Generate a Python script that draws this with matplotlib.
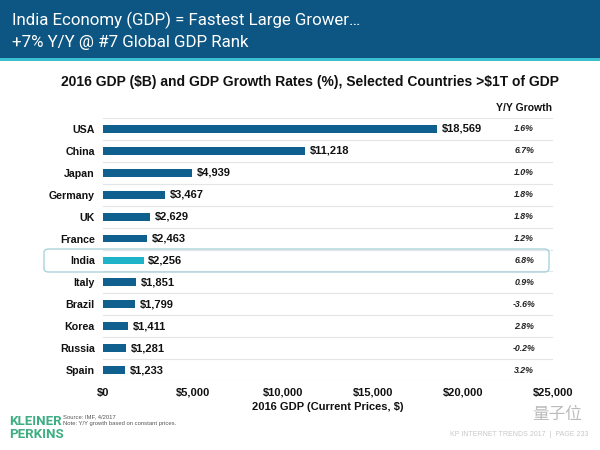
import matplotlib
matplotlib.use("Agg")
import matplotlib.pyplot as plt
from matplotlib.patches import Rectangle, FancyBboxPatch

countries = ["USA", "China", "Japan", "Germany", "UK", "France", "India",
             "Italy", "Brazil", "Korea", "Russia", "Spain"]
gdp = [18569, 11218, 4939, 3467, 2629, 2463, 2256, 1851, 1799, 1411, 1281, 1233]
growth = ["1.6%", "6.7%", "1.0%", "1.8%", "1.8%", "1.2%", "6.8%",
          "0.9%", "-3.6%", "2.8%", "-0.2%", "3.2%"]
xticks = [0, 5000, 10000, 15000, 20000, 25000]
xticklabels = ["$0", "$5,000", "$10,000", "$15,000", "$20,000", "$25,000"]

W, H = 600, 450
DARK = "#0f5f8f"
CYAN = "#1fb3c9"
HEAD = "#0d5582"

plt.rcParams['font.family'] = ['Liberation Sans', 'DejaVu Sans']
plt.rcParams['text.parse_math'] = False

fig = plt.figure(figsize=(6, 4.5), dpi=100)

def fx(x):
    return x / W

def fy(y):
    return 1 - y / H

# header band
fig.patches.append(Rectangle((0, fy(58)), 1, 58 / H, transform=fig.transFigure,
                             facecolor=HEAD, edgecolor="none", zorder=0))
fig.patches.append(Rectangle((0, fy(61)), 1, 3 / H, transform=fig.transFigure,
                             facecolor="#3bc0d0", edgecolor="none", zorder=0))
fig.text(fx(12), fy(20), "India Economy (GDP) = Fastest Large Grower\u2026",
         color="white", fontsize=12.2, va="center", ha="left", family="Roboto")
fig.text(fx(12), fy(43), "+7% Y/Y @ #7 Global GDP Rank",
         color="white", fontsize=12.2, va="center", ha="left", family="Roboto")

fig.text(fx(310), fy(82),
         "2016 GDP ($B) and GDP Growth Rates (%), Selected Countries >$1T of GDP",
         fontsize=10, fontweight="bold", ha="center", va="center", color="#111111")

# India highlight box
box = FancyBboxPatch((fx(44), fy(272)), fx(549) - fx(44), (272 - 249) / H,
                     boxstyle="round,pad=0,rounding_size=0.008",
                     transform=fig.transFigure, facecolor="none",
                     edgecolor="#a9d3da", linewidth=1.0, zorder=1)
fig.patches.append(box)

ax = fig.add_axes([fx(103), fy(381), 450 / W, (381 - 118) / H])
ax.set_xlim(0, 25000)
ax.set_ylim(len(countries) - 0.5, -0.5)
ypos = list(range(len(countries)))
colors = [CYAN if c == "India" else DARK for c in countries]
ax.barh(ypos, gdp, height=0.36, color=colors, zorder=3)

for i in range(len(countries) + 1):
    ax.axhline(i - 0.5, color="#e3e6e8", linewidth=0.8, zorder=1)

for y, v in zip(ypos, gdp):
    ax.text(v + 250, y, f"${v:,}", va="center", ha="left", fontsize=8,
            fontweight="bold", color="#111111")
for y, g in zip(ypos, growth):
    ax.text(23400, y, g, va="center", ha="center", fontsize=6.3,
            fontstyle="italic", fontweight="bold", color="#222222")

ax.text(23400, -0.95, "Y/Y Growth", va="center", ha="center", fontsize=7.5,
        fontweight="bold", color="#111111")

ax.set_yticks(ypos)
ax.set_yticklabels(countries, fontsize=7.7, fontweight="bold", color="#111111")
ax.set_xticks(xticks)
ax.set_xticklabels(xticklabels, fontsize=8, fontweight="bold", color="#111111")
ax.tick_params(length=0, pad=6)
ax.tick_params(axis="x", pad=5)
for s in ax.spines.values():
    s.set_visible(False)
ax.set_xlabel("2016 GDP (Current Prices, $)", fontsize=8, fontweight="bold",
              color="#111111", labelpad=3)

# footer
fig.text(fx(9), fy(421.5), "KLEINER", fontsize=9.5, fontweight="bold",
         color="#3fae82", va="center", ha="left", family="Roboto")
fig.text(fx(9), fy(434), "PERKINS", fontsize=9.5, fontweight="bold",
         color="#3fae82", va="center", ha="left", family="Roboto")
fig.text(fx(63), fy(416.5), "Source: IMF, 4/2017", fontsize=4.2,
         color="#555555", va="center", ha="left")
fig.text(fx(63), fy(423.5), "Note: Y/Y growth based on constant prices.",
         fontsize=4.2, color="#555555", va="center", ha="left")
fig.text(fx(588), fy(434), "KP INTERNET TRENDS 2017  |  PAGE 233", fontsize=5,
         color="#c8c8c8", va="center", ha="right")
fig.text(fx(582), fy(414), "量子位", fontsize=12, color="#bbbbbb",
         va="center", ha="right", family=["Noto Sans CJK SC", "DejaVu Sans"])

fig.savefig("out.png", dpi=100)
